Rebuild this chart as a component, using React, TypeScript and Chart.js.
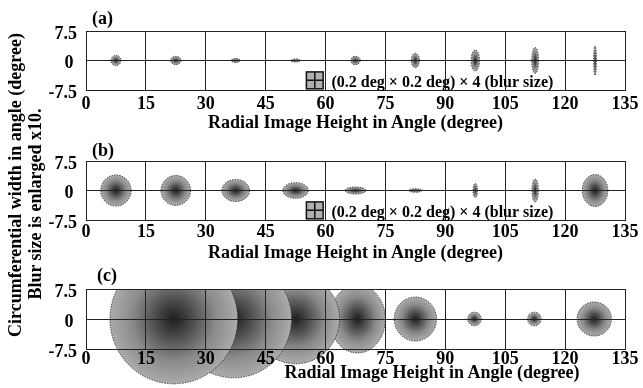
import React, { useEffect, useRef } from 'react';
import { Chart, registerables } from 'chart.js';

Chart.register(...registerables);

// ---------- data ----------
const X_MIN = 0;
const X_MAX = 135;
const X_STEP = 15;
const Y_MIN = -7.5;
const Y_MAX = 7.5;
const Y_STEP = 7.5;
const CENTER_Y = 0;

const PANEL_LABELS = ['(a)', '(b)', '(c)'];
const X_TITLE = 'Radial Image Height in Angle (degree)';
const Y_TITLE_1 = 'Circumferential width in angle (degree)';
const Y_TITLE_2 = 'Blur size is enlarged x10.';
const KEY_TEXT = '(0.2 deg \u00d7 0.2 deg) \u00d7 4 (blur size)';

// panel (a): spot centres and half-widths (degrees)
const A_X = [7.5, 22.5, 37.5, 52.5, 67.5, 82.5, 97.5, 112.5, 127.5];
const A_RX = [1.25, 1.3, 1.1, 1.15, 1.2, 1.0, 1.05, 0.85, 0.35];
const A_RY = [1.3, 1.05, 0.5, 0.4, 1.05, 1.85, 2.65, 3.3, 3.75];

// panel (b)
const B_X = [7.5, 22.5, 37.5, 52.5, 67.5, 82.5, 97.5, 112.5, 127.5];
const B_RX = [3.8, 3.7, 3.45, 3.2, 2.6, 1.65, 0.55, 0.8, 3.2];
const B_RY = [3.95, 3.8, 2.8, 2.0, 0.9, 0.45, 1.8, 2.9, 4.05];

// panel (c)
const C_X = [22, 37, 52.5, 68, 82.5, 97.3, 112.3, 127.3];
const C_RX = [16, 14.5, 11, 7, 5.3, 1.7, 1.7, 4.3];
const C_RY = [16.2, 14.7, 11.2, 8.5, 5.5, 1.7, 1.7, 4.25];

// blur-size key square (value coordinates) and its caption anchor
const KEY_BOX = { x0: 55.2, x1: 59.4, y0: -7.2, y1: -2.9 };
const KEY_TEXT_AT = { x: 61.5, y: -5.6 };

// ---------- styles ----------
const FONT_FAMILY = '"Liberation Serif", "Times New Roman", serif';
const GRID_COLOR = '#222';
const GRADIENT_STOPS: [number, string][] = [
  [0, '#1e1e1e'],
  [0.3, '#4e4e4e'],
  [0.65, '#8a8a8a'],
  [1, '#ababab'],
];

const spotPlugin = {
  id: 'blurSpots',
  afterDatasetsDraw(chart: any, _args: any, opts: any) {
    const { ctx, chartArea } = chart;
    const xs = chart.scales.x;
    const ys = chart.scales.y;
    ctx.save();
    if (opts.clipTop) {
      ctx.beginPath();
      ctx.rect(0, chartArea.top, chart.width, chart.height - chartArea.top);
      ctx.clip();
    }
    chart.data.datasets.forEach((ds: any) => {
      const pts = opts.leftOnTop ? ds.data.slice().reverse() : ds.data;
      for (const p of pts) {
        const cx = xs.getPixelForValue(p.x);
        const cy = ys.getPixelForValue(p.y);
        const rx = Math.abs(xs.getPixelForValue(p.x + p.rx) - cx);
        const ry = Math.abs(ys.getPixelForValue(p.y + p.ry) - cy);
        ctx.save();
        ctx.translate(cx, cy);
        ctx.scale(1, ry / rx);
        const g = ctx.createRadialGradient(0, 0, 0, 0, 0, rx);
        GRADIENT_STOPS.forEach(([o, c]) => g.addColorStop(o, c));
        ctx.fillStyle = g;
        ctx.beginPath();
        ctx.arc(0, 0, rx, 0, Math.PI * 2);
        ctx.fill();
        ctx.restore();
        ctx.save();
        ctx.setLineDash([1.3, 1.3]);
        ctx.strokeStyle = '#2a2a2a';
        ctx.lineWidth = 1;
        ctx.beginPath();
        ctx.ellipse(cx, cy, rx, ry, 0, 0, Math.PI * 2);
        ctx.stroke();
        ctx.restore();
      }
    });
    ctx.restore();
  },
  afterDraw(chart: any, _args: any, opts: any) {
    if (!opts.showKey) return;
    const { ctx } = chart;
    const xs = chart.scales.x;
    const ys = chart.scales.y;
    const l = xs.getPixelForValue(KEY_BOX.x0);
    const r = xs.getPixelForValue(KEY_BOX.x1);
    const t = ys.getPixelForValue(KEY_BOX.y1);
    const b = ys.getPixelForValue(KEY_BOX.y0);
    ctx.save();
    ctx.fillStyle = '#b0b0b0';
    ctx.fillRect(l, t, r - l, b - t);
    ctx.strokeStyle = '#111';
    ctx.lineWidth = 1.5;
    ctx.strokeRect(l, t, r - l, b - t);
    ctx.beginPath();
    ctx.moveTo((l + r) / 2, t);
    ctx.lineTo((l + r) / 2, b);
    ctx.moveTo(l, (t + b) / 2);
    ctx.lineTo(r, (t + b) / 2);
    ctx.stroke();
    ctx.fillStyle = '#000';
    ctx.font = `bold 16px ${FONT_FAMILY}`;
    ctx.textAlign = 'left';
    ctx.textBaseline = 'middle';
    ctx.fillText(KEY_TEXT, xs.getPixelForValue(KEY_TEXT_AT.x), ys.getPixelForValue(KEY_TEXT_AT.y));
    ctx.restore();
  },
};

type PanelCfg = {
  xs: number[];
  rx: number[];
  ry: number[];
  padTop: number;
  padBottom: number;
  tickPad: number;
  showKey: boolean;
  leftOnTop: boolean;
  clipTop: boolean;
};

const PANELS: PanelCfg[] = [
  { xs: A_X, rx: A_RX, ry: A_RY, padTop: 31, padBottom: 268, tickPad: 4, showKey: true, leftOnTop: false, clipTop: false },
  { xs: B_X, rx: B_RX, ry: B_RY, padTop: 161, padBottom: 138, tickPad: 2, showKey: true, leftOnTop: false, clipTop: false },
  { xs: C_X, rx: C_RX, ry: C_RY, padTop: 289, padBottom: 9, tickPad: 0, showKey: false, leftOnTop: true, clipTop: true },
];

function makeChart(canvas: HTMLCanvasElement, p: PanelCfg) {
  const tickFont = { family: FONT_FAMILY, size: 18, weight: 'bold' as const };
  return new Chart(canvas, {
    type: 'scatter',
    data: {
      datasets: [
        {
          data: p.xs.map((x, i) => ({ x, y: CENTER_Y, rx: p.rx[i], ry: p.ry[i] })) as any,
          pointRadius: 0,
          showLine: false,
        },
      ],
    },
    plugins: [spotPlugin],
    options: {
      responsive: false,
      animation: false,
      events: [],
      layout: { padding: { left: 0, right: 18, top: p.padTop, bottom: p.padBottom } },
      plugins: {
        legend: { display: false },
        tooltip: { enabled: false },
        blurSpots: { showKey: p.showKey, leftOnTop: p.leftOnTop, clipTop: p.clipTop },
      } as any,
      scales: {
        x: {
          type: 'linear',
          min: X_MIN,
          max: X_MAX,
          afterFit: (s: any) => {
            s.height = 30;
          },
          ticks: {
            stepSize: X_STEP,
            autoSkip: false,
            maxRotation: 0,
            padding: p.tickPad,
            color: '#000',
            font: tickFont,
            z: 2,
          },
          grid: { color: GRID_COLOR, drawTicks: false, lineWidth: 1, z: 1 },
          border: { color: GRID_COLOR, z: 1 },
        },
        y: {
          type: 'linear',
          min: Y_MIN,
          max: Y_MAX,
          afterFit: (s: any) => {
            s.width = 86;
          },
          ticks: {
            stepSize: Y_STEP,
            padding: 9,
            labelOffset: 3,
            color: '#000',
            font: tickFont,
            z: 2,
            callback: (v: any) => (Number(v) === 0 ? '0\u2009' : String(v)),
          },
          grid: { color: GRID_COLOR, drawTicks: false, lineWidth: 1, z: 1 },
          border: { color: GRID_COLOR, z: 1 },
        },
      },
    } as any,
  });
}

const textBase: React.CSSProperties = {
  position: 'absolute',
  font: `bold 18px ${FONT_FAMILY}`,
  lineHeight: '18px',
  whiteSpace: 'nowrap',
  color: '#000',
};

const PANEL_LABEL_POS = [
  { left: 92, top: 9 },
  { left: 92, top: 140.5 },
  { left: 97, top: 265.5 },
];
const X_TITLE_POS = [
  { cx: 355.5, cy: 123.5 },
  { cx: 355.5, cy: 253.5 },
  { cx: 432, cy: 373 },
];

export default function App() {
  const refs = [useRef<HTMLCanvasElement>(null), useRef<HTMLCanvasElement>(null), useRef<HTMLCanvasElement>(null)];

  useEffect(() => {
    const charts = PANELS.map((p, i) => makeChart(refs[i].current as HTMLCanvasElement, p));
    return () => charts.forEach((c) => c.destroy());
  }, []);

  return (
    <div style={{ position: 'absolute', left: 0, top: 0, width: 643, height: 388, background: '#fff', overflow: 'hidden' }}>
      {refs.map((r, i) => (
        <canvas key={i} ref={r} width={643} height={388} style={{ position: 'absolute', left: 0, top: 0 }} />
      ))}
      {PANEL_LABELS.map((t, i) => (
        <div key={'p' + i} style={{ ...textBase, left: PANEL_LABEL_POS[i].left, top: PANEL_LABEL_POS[i].top }}>
          {t}
        </div>
      ))}
      {X_TITLE_POS.map((pos, i) => (
        <div
          key={'x' + i}
          style={{ ...textBase, left: pos.cx, top: pos.cy - 10.5, transform: 'translateX(-50%)' }}
        >
          {X_TITLE}
        </div>
      ))}
      <div style={{ ...textBase, left: 14.6, top: 184.5, transform: 'translate(-50%, -50%) rotate(-90deg)' }}>
        {Y_TITLE_1}
      </div>
      <div style={{ ...textBase, left: 34.8, top: 204, transform: 'translate(-50%, -50%) rotate(-90deg)' }}>
        {Y_TITLE_2}
      </div>
    </div>
  );
}
